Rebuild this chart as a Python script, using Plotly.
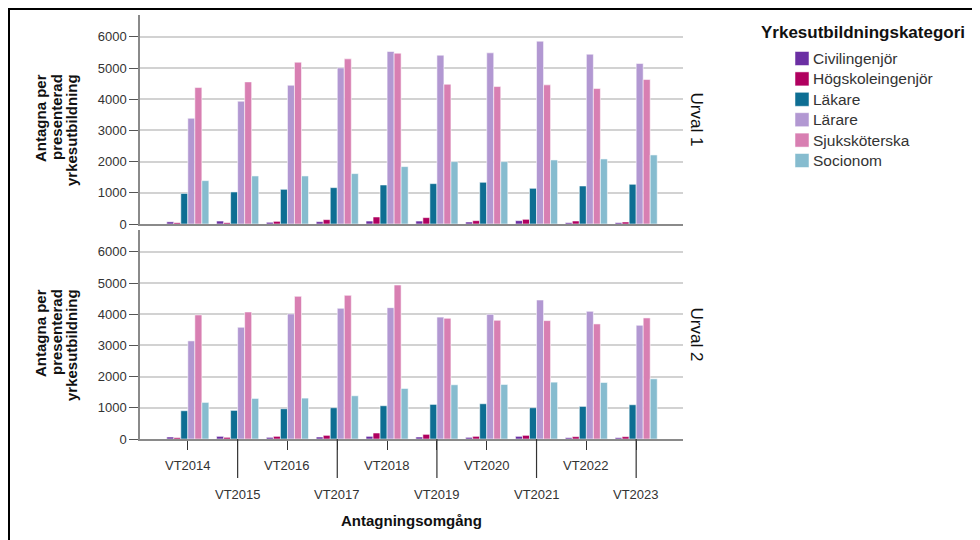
import plotly.graph_objects as go

rounds = ["VT2014", "VT2015", "VT2016", "VT2017", "VT2018",
          "VT2019", "VT2020", "VT2021", "VT2022", "VT2023"]
series_names = ["Civilingenjör", "Högskoleingenjör", "Läkare", "Lärare", "Sjuksköterska", "Socionom"]
series_colors = ["#6b2fa3", "#b0005f", "#0e6e93", "#b298d2", "#d87fb2", "#86bccf"]

# Urval 1
u1_civ = [70, 95, 55, 75, 95, 95, 64, 107, 43, 43]
u1_hog = [40, 40, 85, 140, 225, 205, 107, 150, 96, 64]
u1_lak = [980, 1027, 1112, 1166, 1251, 1294, 1337, 1144, 1219, 1273]
u1_lar = [3390, 3936, 4449, 5005, 5529, 5412, 5487, 5861, 5444, 5144]
u1_sjuk = [4374, 4556, 5187, 5294, 5476, 4481, 4406, 4460, 4342, 4631]
u1_soc = [1390, 1540, 1540, 1615, 1840, 2000, 2000, 2053, 2085, 2214]

# Urval 2
u2_civ = [64, 85, 53, 64, 85, 64, 53, 85, 43, 43]
u2_hog = [43, 53, 85, 117, 192, 149, 85, 117, 75, 75]
u2_lak = [906, 917, 970, 1002, 1066, 1109, 1130, 1002, 1045, 1098]
u2_lar = [3145, 3582, 4009, 4190, 4211, 3908, 3998, 4456, 4094, 3646]
u2_sjuk = [3977, 4072, 4573, 4605, 4936, 3870, 3806, 3795, 3689, 3881]
u2_soc = [1173, 1300, 1311, 1386, 1620, 1738, 1748, 1823, 1812, 1930]

y_ticks = [0, 1000, 2000, 3000, 4000, 5000, 6000]
y_title_lines = ["Antagna per", "presenterad", "yrkesutbildning"]
panel_labels = ["Urval 1", "Urval 2"]
legend_title = "Yrkesutbildningskategori"

urval1 = [u1_civ, u1_hog, u1_lak, u1_lar, u1_sjuk, u1_soc]
urval2 = [u2_civ, u2_hog, u2_lak, u2_lar, u2_sjuk, u2_soc]

FONT = "Liberation Sans, Arial, sans-serif"
OFF = 8  # page body margin
W, H = 980 - OFF, 540 - OFF
L, T = 140 - OFF, 15 - OFF
R = W - (683 - OFF)
B = H - (439 - OFF)
PW, PH = W - L - R, H - T - B


def px_x(sx):  # screen x -> paper
    return (sx - OFF - L) / PW


def px_y(sy):  # screen y -> paper
    return (H - B - (sy - OFF)) / PH


fig = go.Figure()
for name, col, v1, v2 in zip(series_names, series_colors, urval1, urval2):
    fig.add_trace(go.Bar(x=rounds, y=v1, name=name, marker_color=col,
                         marker_line=dict(color="rgba(255,255,255,0.55)", width=1),
                         xaxis="x", yaxis="y", showlegend=False))
    fig.add_trace(go.Bar(x=rounds, y=v2, name=name, marker_color=col,
                         marker_line=dict(color="rgba(255,255,255,0.55)", width=1),
                         xaxis="x2", yaxis="y2", showlegend=False))

gap_frac = 6 / PH
top_dom = [0.5 + gap_frac / 2, 1.0]
bot_dom = [0.0, 0.5 - gap_frac / 2]

yax = dict(range=[0, 6700], tickvals=y_ticks, showgrid=True, gridcolor="#d2d2d2", gridwidth=1.5,
           showline=True, linecolor="#8a8a8a", linewidth=1.5, ticks="outside", ticklen=9,
           tickcolor="#555555", tickfont=dict(family=FONT, size=13, color="#333333"),
           zeroline=False, fixedrange=True)
xax = dict(range=[-0.96, 9.94], showline=True, linecolor="#8a8a8a", linewidth=1.5,
           showgrid=False, zeroline=False, type="category")

fig.update_layout(
    width=W, height=H,
    margin=dict(l=L, r=R, t=T, b=B),
    paper_bgcolor="white", plot_bgcolor="white",
    barmode="group", bargap=0.155, bargroupgap=0.0,
    font=dict(family=FONT, size=13, color="#222222"),
    xaxis=dict(xax, domain=[0, 1], anchor="y", showticklabels=False, ticks=""),
    yaxis=dict(yax, domain=top_dom, anchor="x"),
    xaxis2=dict(xax, domain=[0, 1], anchor="y2", showticklabels=False, ticks="outside",
                ticklen=9, tickcolor="#333333", tickwidth=1.2),
    yaxis2=dict(yax, domain=bot_dom, anchor="x2"),
    showlegend=False,
)

annotations = []
shapes = []
for i, r in enumerate(rounds):
    sy = 465 if i % 2 == 0 else 494
    annotations.append(dict(x=r, y=px_y(sy), xref="x2", yref="paper", text=r, showarrow=False,
                            yanchor="middle", font=dict(family=FONT, size=13, color="#333333")))
    if i % 2 == 1:
        shapes.append(dict(type="line", xref="x2", yref="paper", x0=i, x1=i,
                           y0=px_y(439), y1=px_y(478), line=dict(color="#333333", width=1.2)))

for dy in [0, 215]:
    for line, sx in zip(y_title_lines, [40, 56, 71]):
        annotations.append(dict(x=px_x(sx), y=px_y(72 + dy), xref="paper", yref="paper",
                                text="<b>" + line + "</b>", showarrow=False, textangle=-90,
                                xanchor="center", yanchor="top",
                                font=dict(family=FONT, size=15, color="#111111")))
for txt, cy in zip(panel_labels, [(15 + 224) / 2, (230 + 439) / 2]):
    annotations.append(dict(x=px_x(696), y=px_y(cy), xref="paper", yref="paper", text=txt,
                            showarrow=False, textangle=90, xanchor="center", yanchor="middle",
                            font=dict(family=FONT, size=17, color="#111111")))
annotations.append(dict(x=px_x(411), y=px_y(520), xref="paper", yref="paper",
                        text="<b>Antagningsomgång</b>", showarrow=False, yanchor="middle",
                        font=dict(family=FONT, size=15, color="#111111")))

# legend (title + swatches + labels)
annotations.append(dict(x=px_x(759), y=px_y(32), xref="paper", yref="paper",
                        text="<b>" + legend_title + "</b>", showarrow=False,
                        xanchor="left", yanchor="middle",
                        font=dict(family=FONT, size=17, color="#111111")))
for k, (name, col) in enumerate(zip(series_names, series_colors)):
    cy = 58.5 + 20.4 * k
    shapes.append(dict(type="rect", xref="paper", yref="paper",
                       x0=px_x(795), x1=px_x(809), y0=px_y(cy + 7), y1=px_y(cy - 7),
                       fillcolor=col, line=dict(color="rgba(255,255,255,0.5)", width=1)))
    annotations.append(dict(x=px_x(811), y=px_y(cy), xref="paper", yref="paper", text=name,
                            showarrow=False, xanchor="left", yanchor="middle",
                            font=dict(family=FONT, size=15.5, color="#333333")))

shapes.append(dict(type="rect", xref="paper", yref="paper", x0=px_x(9), x1=px_x(1010),
                   y0=px_y(570), y1=px_y(9), line=dict(color="black", width=2),
                   fillcolor="rgba(0,0,0,0)", layer="above"))

fig.update_layout(annotations=annotations, shapes=shapes)
fig.write_html("out.html")
